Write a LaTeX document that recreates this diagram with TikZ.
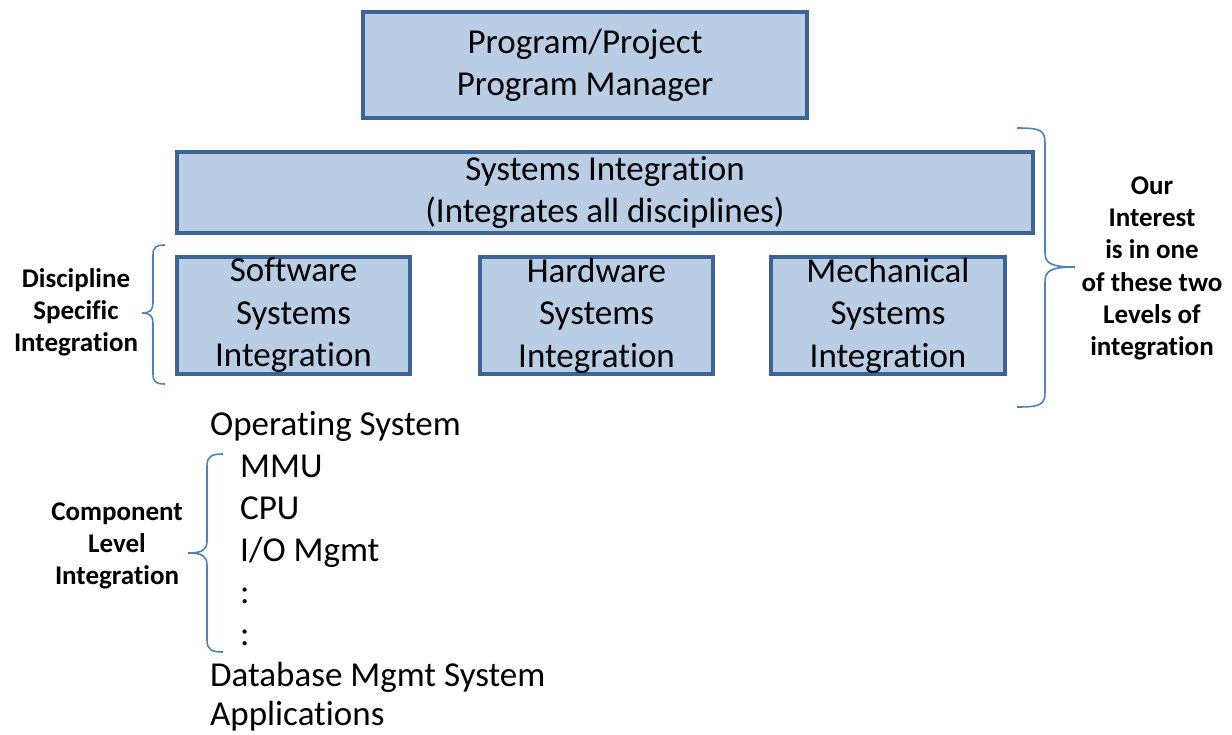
\documentclass[tikz,border=0pt]{standalone}
\usepackage{fontspec}
\setmainfont{Carlito}[Ligatures={NoCommon,NoRare}]
\definecolor{boxfill}{HTML}{B9CDE5}
\definecolor{boxline}{HTML}{3D6494}
\definecolor{bracecol}{HTML}{4F81BD}
\tikzset{
  sibox/.style={draw=boxline, fill=boxfill, line width=3.5pt, inner sep=0pt, align=center,
    font=\fontsize{35}{42}\selectfont},
  lbl/.style={align=center, font=\bfseries\fontsize{27}{32.3}\selectfont, inner sep=0pt},
  item/.style={anchor=base west, inner sep=0pt, font=\fontsize{35}{42}\selectfont},
  bracepath/.style={draw=bracecol, line width=1.6pt}
}
\begin{document}
\begin{tikzpicture}[x=1pt,y=-1pt]
\useasboundingbox (0,0) rectangle (1232,734);
% boxes
\node[sibox, minimum width=444pt, minimum height=106pt] (pm) at (585,65) {Program/Project\\Program Manager};
\node[sibox, minimum width=856pt, minimum height=81pt] (si) at (605,192.5) {Systems Integration\\(Integrates all disciplines)};
\node[sibox, minimum width=233pt, minimum height=117pt, font=\fontsize{35}{42.5}\selectfont] (sw) at (293.5,315.5) {Software\\Systems\\Integration};
\node[sibox, minimum width=233pt, minimum height=117pt, font=\fontsize{35}{42.5}\selectfont] (hw) at (596.5,315.5) {Hardware\\Systems\\Integration};
\node[sibox, minimum width=234pt, minimum height=117pt, font=\fontsize{35}{42.5}\selectfont] (me) at (888,315.5) {Mechanical\\Systems\\Integration};
% list
\node[item] (os) at (210,435) {Operating System};
\node[item] (mmu) at (240,477) {MMU};
\node[item] (cpu) at (240,519) {CPU};
\node[item] (io) at (240,561) {I/O Mgmt};
\node[item] (d1) at (240,603) {:};
\node[item] (d2) at (240,645) {:};
\node[item] (db) at (210,686) {Database Mgmt System};
\node[item] (app) at (210,725) {Applications};
% labels
\node[lbl] (disc) at (76,312.5) {Discipline\\Specific\\Integration};
\node[lbl] (comp) at (117,546) {Component\\Level\\Integration};
\node[lbl] (our) at (1152,268.5) {Our\\Interest\\is in one\\of these two\\Levels of\\integration};
% braces
\draw[bracepath] (1017,128) .. controls (1040,128) and (1045,130) .. (1045,143)
  -- (1045,252) .. controls (1045,263) and (1050,267) .. (1075,267)
  .. controls (1050,267) and (1045,271) .. (1045,282)
  -- (1045,392) .. controls (1045,405) and (1040,407) .. (1017,407);
\draw[bracepath] (165,245) .. controls (156,245) and (153,247) .. (153,255)
  -- (153,303) .. controls (153,310) and (150,313) .. (142,313)
  .. controls (150,313) and (153,316) .. (153,323)
  -- (153,374) .. controls (153,382) and (156,384) .. (165,384);
\draw[bracepath] (223,454) .. controls (212,454) and (207,456) .. (207,466)
  -- (207,541) .. controls (207,550) and (202,553) .. (188,553)
  .. controls (202,553) and (207,556) .. (207,565)
  -- (207,640) .. controls (207,650) and (212,652) .. (223,652);
\end{tikzpicture}
\end{document}
